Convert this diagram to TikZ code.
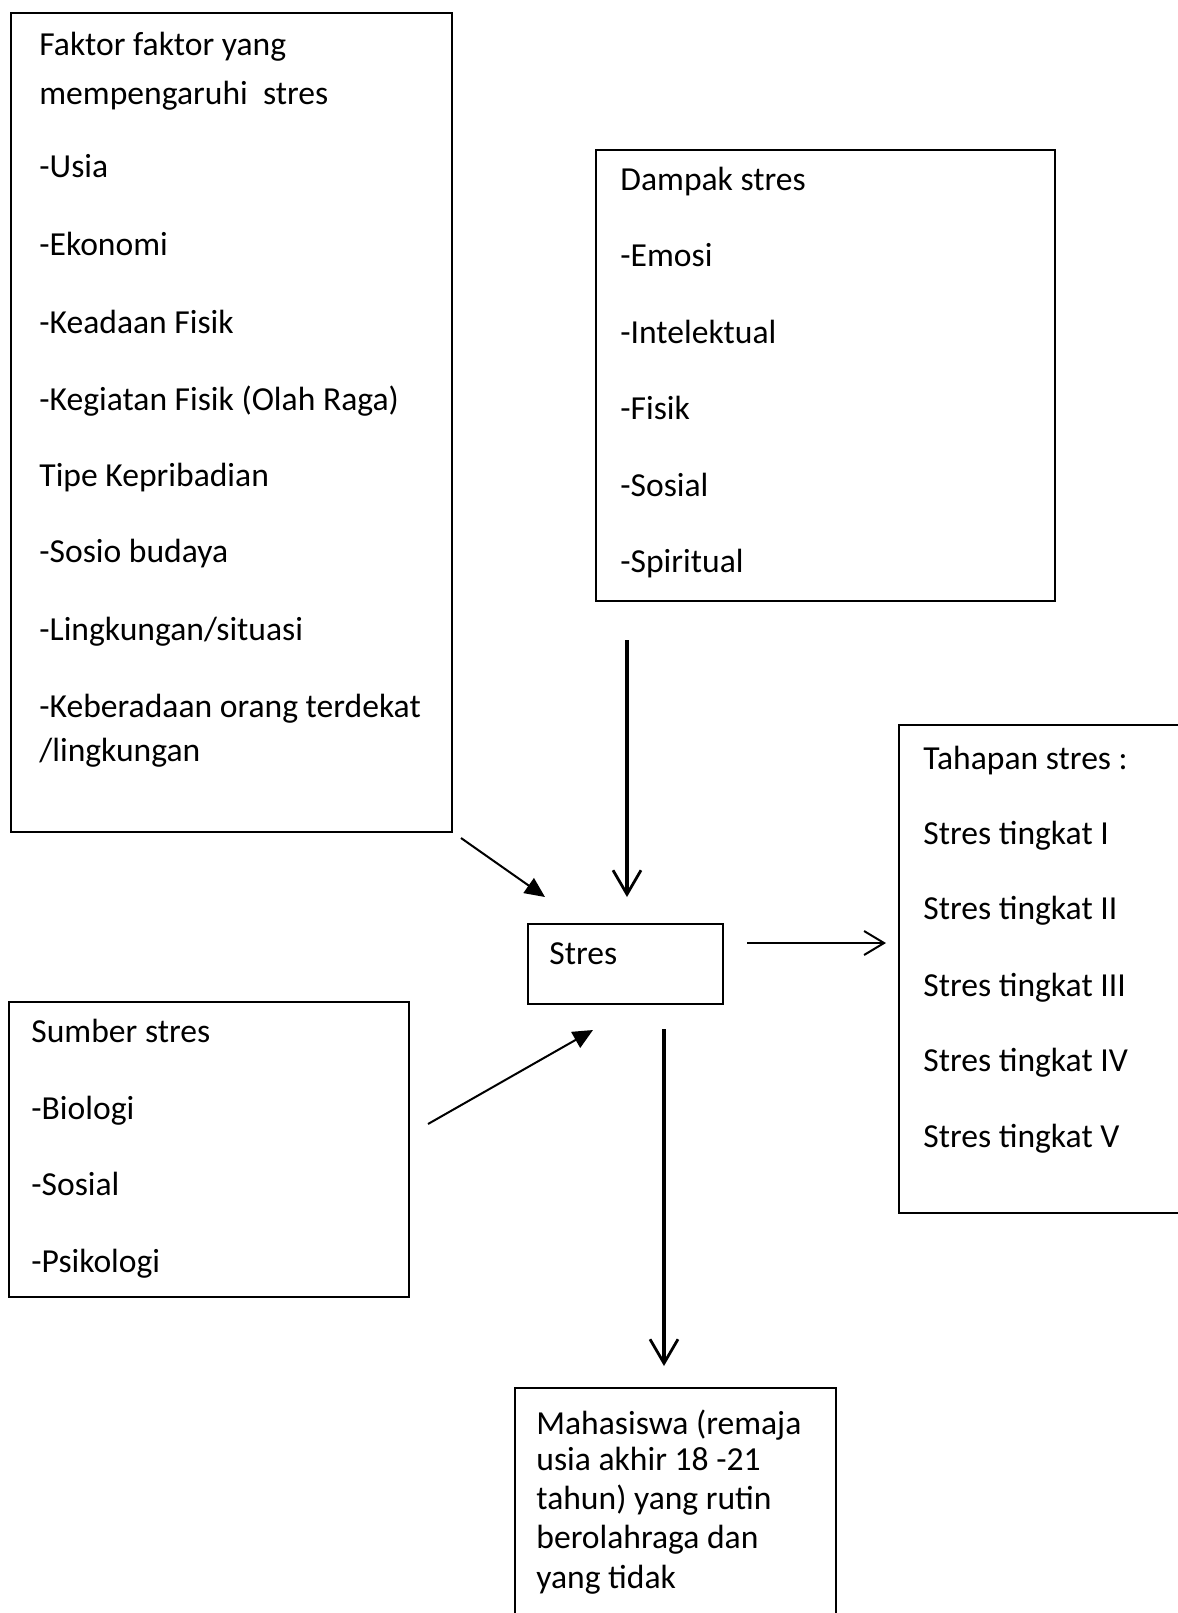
\documentclass[tikz,border=0pt]{standalone}
\usepackage{fontspec}
\setmainfont{Carlito}
\usetikzlibrary{arrows.meta}
\begin{document}
\begin{tikzpicture}[x=0.5pt,y=-0.5pt,
  box/.style={draw,line width=1pt,anchor=north west,inner sep=0pt},
  lbl/.style={anchor=base west,inner sep=0pt,font=\fontsize{16.8}{20}\selectfont},
  thin arrow/.style={line width=1pt,-{Triangle[length=10pt,width=9pt]}},
  open arrow/.style={line width=1pt,-{Straight Barb[length=10pt,width=12pt,line width=1pt]}},
  thick arrow/.style={line width=2.4pt,-{Straight Barb[length=12pt,width=14pt,line width=1.4pt]}}]
\useasboundingbox (0,0) rectangle (1178,1613);
\clip (0,0) rectangle (1178,1613);
\fill[white] (0,0) rectangle (1178,1613);

% boxes
\node (faktor) [box,minimum width=220.5pt,minimum height=409.5pt] at (10,12) {};
\node (dampak) [box,minimum width=229.5pt,minimum height=225.5pt] at (595,149) {};
\node (stres) [box,minimum width=97.5pt,minimum height=40pt] at (527,923) {};
\node (tahapan) [box,minimum width=160pt,minimum height=244pt] at (898,724) {};
\node (sumber) [box,minimum width=200pt,minimum height=147.5pt] at (8,1001) {};
\node (mhs) [box,minimum width=160.5pt,minimum height=130pt] at (514,1387) {};

% Faktor text
\node[lbl] (f1) at (39,55) {Faktor faktor yang};
\node[lbl] (f2) at (39,104) {mempengaruhi\ \ stres};
\node[lbl] (f3) at (39,177) {-Usia};
\node[lbl] (f4) at (39,255) {-Ekonomi};
\node[lbl] (f5) at (39,333) {-Keadaan Fisik};
\node[lbl] (f6) at (39,410) {-Kegiatan Fisik (Olah Raga)};
\node[lbl] (f7) at (39,486) {Tipe Kepribadian};
\node[lbl] (f8) at (39,562) {-Sosio budaya};
\node[lbl] (f9) at (39,640) {-Lingkungan/situasi};
\node[lbl] (f10) at (39,717) {-Keberadaan orang terdekat};
\node[lbl] (f11) at (39,761) {/lingkungan};

% Dampak text
\node[lbl] (d1) at (620,190) {Dampak stres};
\node[lbl] (d2) at (620,266) {-Emosi};
\node[lbl] (d3) at (620,343) {-Intelektual};
\node[lbl] (d4) at (620,419) {-Fisik};
\node[lbl] (d5) at (620,496) {-Sosial};
\node[lbl] (d6) at (620,572) {-Spiritual};

% Stres text
\node[lbl] (s1) at (549,964) {Stres};

% Tahapan text
\node[lbl] (t1) at (923,769) {Tahapan stres :};
\node[lbl] (t2) at (923,844) {Stres tingkat I};
\node[lbl] (t3) at (923,919) {Stres tingkat II};
\node[lbl] (t4) at (923,996) {Stres tingkat III};
\node[lbl] (t5) at (923,1071) {Stres tingkat IV};
\node[lbl] (t6) at (923,1147) {Stres tingkat V};

% Sumber text
\node[lbl] (u1) at (31,1042) {Sumber stres};
\node[lbl] (u2) at (31,1119) {-Biologi};
\node[lbl] (u3) at (31,1195) {-Sosial};
\node[lbl] (u4) at (31,1272) {-Psikologi};

% Mahasiswa text
\node[lbl] (m1) at (536,1434) {Mahasiswa (remaja};
\node[lbl] (m2) at (536,1470) {usia akhir 18 -21};
\node[lbl] (m3) at (536,1509) {tahun) yang rutin};
\node[lbl] (m4) at (536,1548) {berolahraga dan};
\node[lbl] (m5) at (536,1588) {yang tidak};

% arrow end points
\coordinate (a1s) at (627,640);
\coordinate (a1e) at (627,897);
\coordinate (a2s) at (461,838);
\coordinate (a2e) at (545,897);
\coordinate (a3s) at (747,943);
\coordinate (a3e) at (886,943);
\coordinate (a4s) at (428,1124);
\coordinate (a4e) at (593,1030);
\coordinate (a5s) at (664,1029);
\coordinate (a5e) at (664,1366);

\draw[thick arrow] (a1s) -- (a1e);
\draw[thin arrow] (a2s) -- (a2e);
\draw[open arrow] (a3s) -- (a3e);
\draw[thin arrow] (a4s) -- (a4e);
\draw[thick arrow] (a5s) -- (a5e);
\end{tikzpicture}
\end{document}
